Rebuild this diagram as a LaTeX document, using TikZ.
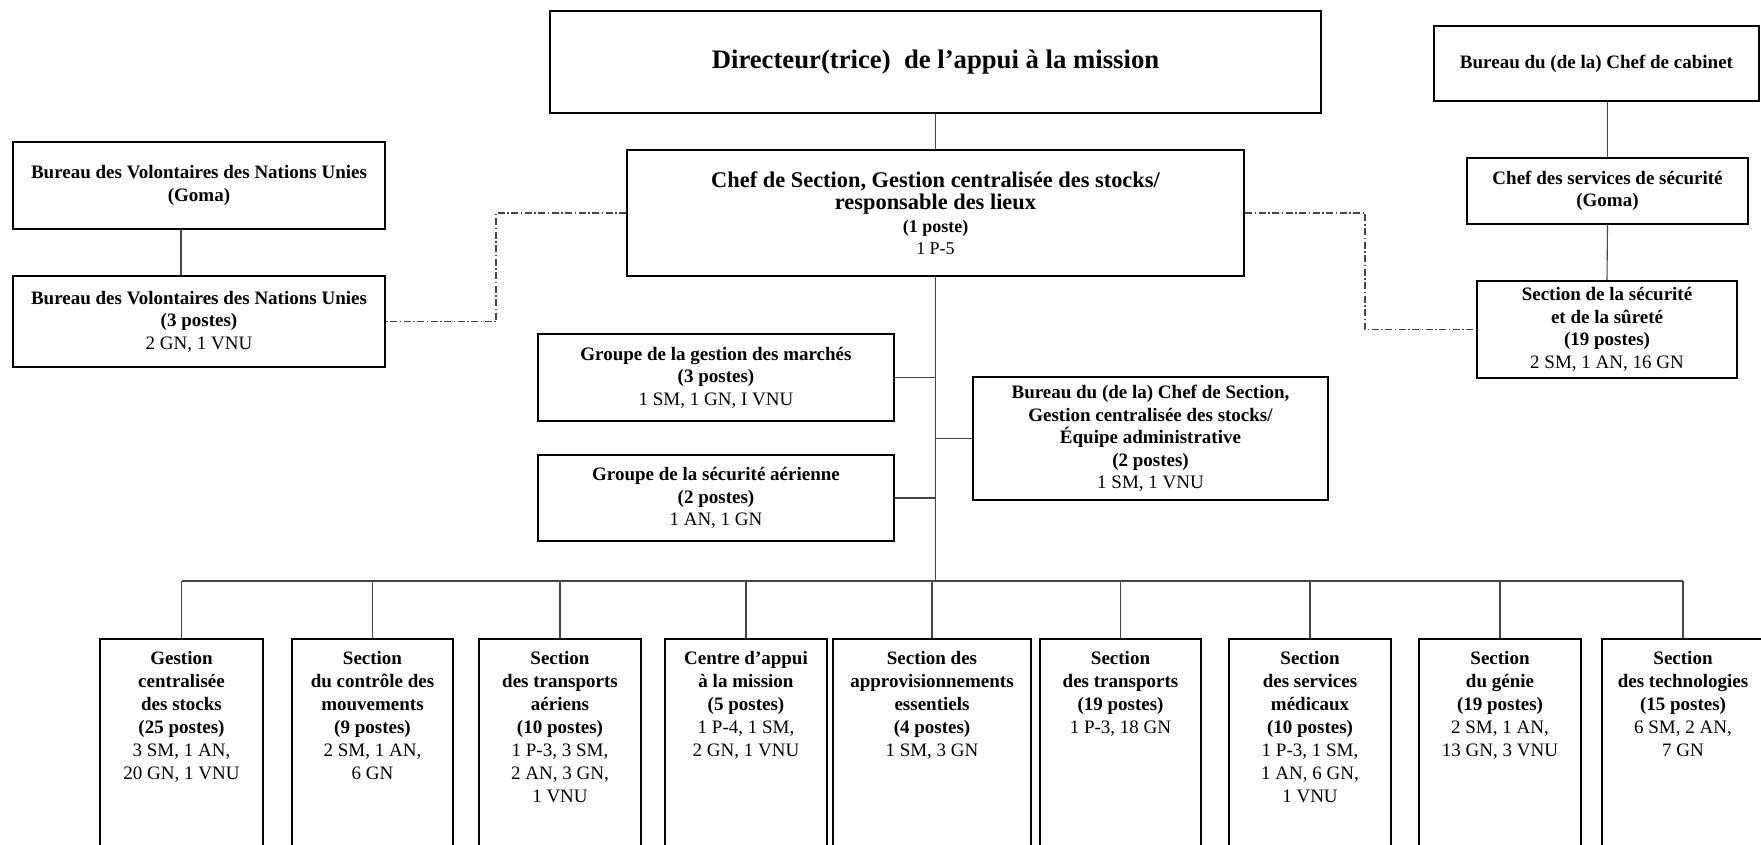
\documentclass[tikz,border=0pt]{standalone}
\usepackage{fontspec}
\setmainfont{Liberation Serif}
\usetikzlibrary{calc}
\definecolor{linkgray}{HTML}{454545}
\tikzset{
  box/.style={draw=black, line width=2pt, align=center, inner sep=2pt,
    font=\fontsize{19}{22.5}\selectfont\bfseries},
  link/.style={draw=linkgray, line width=1.1pt},
  dd/.style={draw=linkgray, line width=1.1pt, dash pattern=on 7pt off 2.5pt on 1.5pt off 2.5pt},
  unitbox/.style={draw=black, line width=2pt, anchor=north, inner xsep=2pt, inner ysep=12pt,
    font=\fontsize{19}{23}\selectfont\bfseries}
}
\newcommand{\ubody}[2]{\parbox[t][200pt][t]{#1}{\centering #2}}
\begin{document}
\begin{tikzpicture}[x=1pt,y=-1pt]
\useasboundingbox (0,0) rectangle (1761,845);
% top level
\node[box, minimum width=771pt, minimum height=102pt, font=\fontsize{26.7}{32}\selectfont\bfseries]
  (dir) at (935.5,62) {\raisebox{-3pt}{Directeur(trice)\ \ de l’appui à la mission}};
\node[box, minimum width=325pt, minimum height=75pt] (cab) at (1596.5,63.5)
  {Bureau du (de la) Chef de cabinet};
\node[box, minimum width=617pt, minimum height=126pt] (chef) at (935.5,213)
  {\fontsize{22.4}{28}\selectfont Chef de Section, Gestion centralisée des stocks/\\
   \fontsize{22.4}{25}\selectfont responsable des lieux\\
   \fontsize{18}{21}\selectfont (1 poste)\\
   \fontsize{18}{19}\selectfont\mdseries 1 P-5};
% left side
\node[box, minimum width=372pt, minimum height=87pt] (vnu1) at (199,185.5)
  {Bureau des Volontaires des Nations Unies\\(Goma)};
\node[box, minimum width=372pt, minimum height=91pt] (vnu2) at (199,321.5)
  {Bureau des Volontaires des Nations Unies\\(3 postes)\\\mdseries 2 GN, 1 VNU};
% right side
\node[box, minimum width=281pt, minimum height=66pt] (secchef) at (1607.5,191)
  {Chef des services de sécurité\\(Goma)};
\node[box, minimum width=260pt, minimum height=97pt] (secsec) at (1607,329.5)
  {Section de la sécurité\\et de la sûreté\\(19 postes)\\\mdseries 2 SM, 1 AN, 16 GN};
% middle groups
\node[box, minimum width=356pt, minimum height=87pt] (grp1) at (716,377.5)
  {Groupe de la gestion des marchés\\(3 postes)\\\mdseries 1 SM, 1 GN, I VNU};
\node[box, minimum width=356pt, minimum height=86pt] (grp2) at (716,498)
  {Groupe de la sécurité aérienne\\(2 postes)\\\mdseries 1 AN, 1 GN};
\node[box, minimum width=355pt, minimum height=123pt] (admin) at (1150.5,438.5)
  {Bureau du (de la) Chef de Section,\\Gestion centralisée des stocks/\\Équipe administrative\\(2 postes)\\\mdseries 1 SM, 1 VNU};
% bottom units
\node[unitbox] (u1) at (181.5,638) {\ubody{159pt}{Gestion\\centralisée\\des stocks\\(25 postes)\\\mdseries 3 SM, 1 AN,\\20 GN, 1 VNU}};
\node[unitbox] (u2) at (372.5,638) {\ubody{157pt}{Section\\du contrôle des\\mouvements\\(9 postes)\\\mdseries 2 SM, 1 AN,\\6 GN}};
\node[unitbox] (u3) at (560,638) {\ubody{158pt}{Section\\des transports\\aériens\\(10 postes)\\\mdseries 1 P-3, 3 SM,\\2 AN, 3 GN,\\1 VNU}};
\node[unitbox] (u4) at (746,638) {\ubody{158pt}{Centre d’appui\\à la mission\\(5 postes)\\\mdseries 1 P-4, 1 SM,\\2 GN, 1 VNU}};
\node[unitbox] (u5) at (932,638) {\ubody{194pt}{Section des\\approvisionnements\\essentiels\\(4 postes)\\\mdseries 1 SM, 3 GN}};
\node[unitbox] (u6) at (1120.5,638) {\ubody{157pt}{Section\\des transports\\(19 postes)\\\mdseries 1 P-3, 18 GN}};
\node[unitbox] (u7) at (1310,638) {\ubody{158pt}{Section\\des services\\médicaux\\(10 postes)\\\mdseries 1 P-3, 1 SM,\\1 AN, 6 GN,\\1 VNU}};
\node[unitbox] (u8) at (1500,638) {\ubody{158pt}{Section\\du génie\\(19 postes)\\\mdseries 2 SM, 1 AN,\\13 GN, 3 VNU}};
\node[unitbox] (u9) at (1683,638) {\ubody{158pt}{Section\\des technologies\\(15 postes)\\\mdseries 6 SM, 2 AN,\\7 GN}};
% connectors
\coordinate (bus) at (935.5,581);
\draw[link] (dir.south) -- (chef.north);
\draw[link] (chef.south) -- (bus);
\draw[link] (u1.north |- bus) -- (u9.north |- bus);
\foreach \i in {1,...,9} { \draw[link] (u\i.north) -- (u\i.north |- bus); }
\draw[link] (grp1.east) -- (grp1.east -| chef.south);
\draw[link] (grp2.east) -- (grp2.east -| chef.south);
\draw[link] (admin.west) -- (admin.west -| chef.south);
\draw[link] ([xshift=-18pt]vnu1.south) -- ([xshift=-18pt]vnu2.north);
\draw[link] (secchef.north) -- (secchef.north |- cab.south);
\draw[link] (secchef.south) -- (secsec.north);
\draw[dd] (chef.west) -- ++(-130,0) |- (vnu2.east);
\draw[dd] (chef.east) -- ++(120,0) |- (secsec.west);
\end{tikzpicture}
\end{document}
